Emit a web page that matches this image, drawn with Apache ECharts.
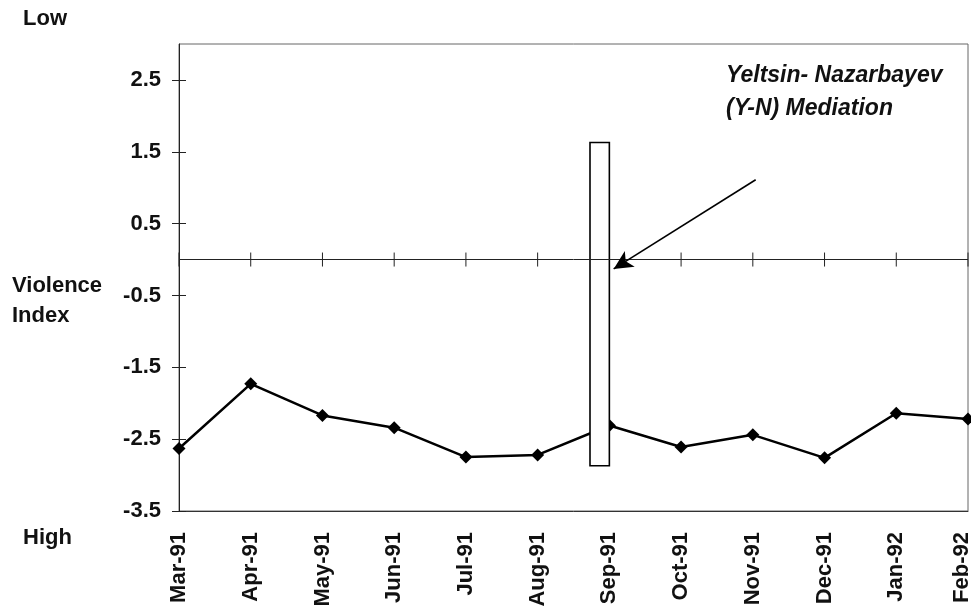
<!DOCTYPE html>
<html>
<head>
<meta charset="utf-8">
<script src="https://cdn.jsdelivr.net/npm/echarts@6/dist/echarts.min.js"></script>
<style>
  html, body { margin: 0; padding: 0; background: #fff; }
  #chart { width: 971px; height: 611px; }
</style>
</head>
<body>
<div id="chart"></div>
<script>
// Monthly violence index, March 1991 – February 1992
const months = ['Mar-91', 'Apr-91', 'May-91', 'Jun-91', 'Jul-91', 'Aug-91',
                'Sep-91', 'Oct-91', 'Nov-91', 'Dec-91', 'Jan-92', 'Feb-92'];
const violenceIndex = [-2.63, -1.73, -2.17, -2.34, -2.75, -2.72,
                       -2.31, -2.61, -2.44, -2.76, -2.14, -2.22];
const yTicks = [-3.5, -2.5, -1.5, -0.5, 0.5, 1.5, 2.5];

// Mediation period: [x start, x end (month index), low, high]
const mediationBar = [[5.73, 6, -2.87, 1.63]];
// Annotation arrow: tail and head as [month index, value]
const arrowFrom = [8.04, 1.11];
const arrowTo = [6.06, -0.13];

const FONT = '"Liberation Sans", Arial, Helvetica, sans-serif';
const INK = '#111';

const chart = echarts.init(document.getElementById('chart'), null, { renderer: 'canvas' });

chart.setOption({
  backgroundColor: '#fff',
  animation: false,
  grid: {
    left: 179, top: 44, right: 3, bottom: 100,
    outerBoundsMode: 'none',
    containLabel: false,
    show: true, borderColor: '#666', borderWidth: 1, backgroundColor: 'transparent'
  },
  xAxis: [
    {
      type: 'category',
      data: months,
      boundaryGap: false,
      axisLine: { onZero: false, lineStyle: { color: '#333', width: 1 } },
      axisTick: { show: false },
      splitLine: { show: false },
      axisLabel: {
        rotate: 90, margin: 21, color: INK,
        fontFamily: FONT, fontWeight: 'bold', fontSize: 22,
        interval: 0, hideOverlap: false,
        // the last month label gets a thin spacer line so it sits inside the canvas
        formatter: (v, i) => i === months.length - 1 ? '{m|' + v + '}\n{gap| }' : '{m|' + v + '}',
        rich: {
          m: { fontFamily: FONT, fontWeight: 'bold', fontSize: 22, color: INK, lineHeight: 24 },
          gap: { fontSize: 2, lineHeight: 12 }
        }
      }
    },
    {
      type: 'value', min: 0, max: months.length - 1, show: false
    }
  ],
  yAxis: [
    {
      type: 'value', min: -3.5, max: 3,
      axisLine: { show: true, onZero: false, lineStyle: { color: '#222', width: 1 } },
      axisTick: { show: true, length: 7, customValues: yTicks, lineStyle: { color: '#222' } },
      splitLine: { show: false },
      axisLabel: {
        customValues: yTicks, margin: 18, color: INK,
        fontFamily: FONT, fontWeight: 'bold', fontSize: 22,
        formatter: v => v.toFixed(1)
      }
    },
    {
      type: 'value', min: -3.5, max: 3, position: 'left',
      axisLine: { show: false, onZero: false },
      axisTick: { show: true, inside: true, length: 7, customValues: yTicks, lineStyle: { color: '#222' } },
      axisLabel: { show: false },
      splitLine: { show: false }
    }
  ],
  series: [
    {
      // zero reference line with month ticks crossing it
      type: 'custom',
      xAxisIndex: 0, yAxisIndex: 0,
      silent: true,
      z: 1,
      data: months.map((m, i) => [i, 0]),
      renderItem: (params, api) => {
        const p = api.coord([api.value(0), api.value(1)]);
        return {
          type: 'line',
          shape: { x1: p[0], y1: p[1] - 7, x2: p[0], y2: p[1] + 7 },
          style: { stroke: '#222', lineWidth: 1 }
        };
      },
      markLine: {
        silent: true, symbol: 'none',
        label: { show: false },
        lineStyle: { color: '#222', width: 1, type: 'solid' },
        data: [{ yAxis: 0 }]
      }
    },
    {
      name: 'Violence Index',
      type: 'line',
      xAxisIndex: 0, yAxisIndex: 0,
      data: violenceIndex,
      z: 2,
      symbol: 'diamond',
      symbolSize: 13,
      itemStyle: { color: '#000' },
      lineStyle: { color: '#000', width: 2.5 }
    },
    {
      // Y-N mediation bar, drawn over the line
      type: 'custom',
      xAxisIndex: 1, yAxisIndex: 0,
      silent: true,
      z: 3,
      data: mediationBar,
      renderItem: (params, api) => {
        const a = api.coord([api.value(0), api.value(3)]);
        const b = api.coord([api.value(1), api.value(2)]);
        return {
          type: 'rect',
          shape: { x: a[0], y: a[1], width: b[0] - a[0], height: b[1] - a[1] },
          style: { fill: '#fff', stroke: '#000', lineWidth: 1.6 }
        };
      },
      markLine: {
        silent: true,
        symbol: ['none', 'arrow'],
        symbolSize: [14, 19],
        label: { show: false },
        lineStyle: { color: '#000', width: 1.6, type: 'solid' },
        data: [[{ coord: arrowFrom }, { coord: arrowTo }]]
      }
    }
  ],
  graphic: [
    {
      type: 'text', left: 23, top: 8,
      style: { text: 'Low', fill: INK, font: 'bold 22px ' + FONT }
    },
    {
      type: 'text', left: 12, top: 271,
      style: { text: 'Violence\nIndex', fill: INK, font: 'bold 22px ' + FONT, lineHeight: 30 }
    },
    {
      type: 'text', left: 23, top: 527,
      style: { text: 'High', fill: INK, font: 'bold 22px ' + FONT }
    },
    {
      type: 'text', left: 726, top: 59,
      style: {
        text: 'Yeltsin- Nazarbayev\n(Y-N) Mediation',
        fill: INK, font: 'italic bold 23px ' + FONT, lineHeight: 33
      }
    }
  ]
});
</script>
</body>
</html>
